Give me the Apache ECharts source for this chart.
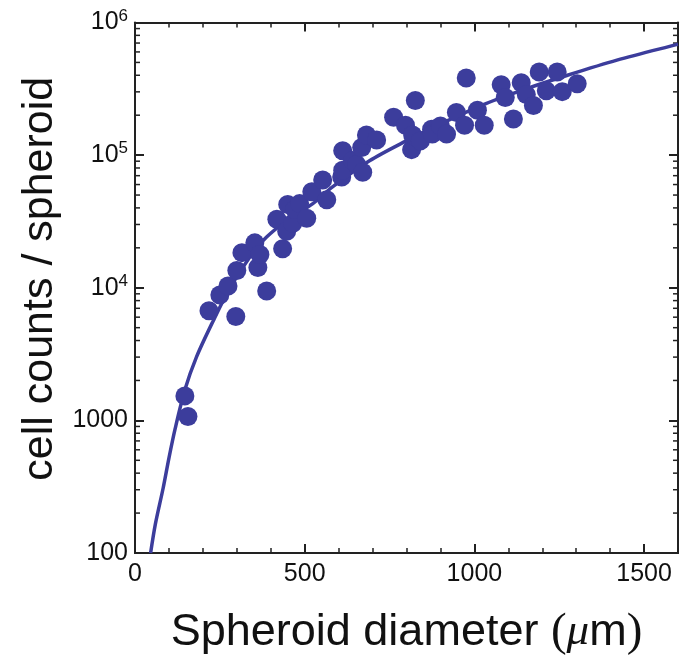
<!DOCTYPE html>
<html>
<head>
<meta charset="utf-8">
<script src="https://cdn.jsdelivr.net/npm/echarts@6/dist/echarts.min.js"></script>
<style>
html,body{margin:0;padding:0;background:#fff;}
#chart{width:685px;height:661px;}
</style>
</head>
<body>
<div id="chart"></div>
<script>
// Measured spheroids: diameter (µm) and cell counts per spheroid
const diameters = [147,156,218,250,274,297,300,315,353,362,368,388,418,435,447,450,465,471,485,506,521,553,565,609,612,612,641,653,668,671,682,712,762,797,815,818,826,841,874,876,900,918,947,971,976,1009,1029,1079,1091,1115,1138,1153,1174,1191,1212,1244,1259,1303];
const counts = [1530,1070,6700,8830,10300,6070,13500,18400,21800,14200,17800,9450,32800,19700,26700,42400,30600,38900,43100,33400,52900,64900,46100,68300,108000,76900,91200,85200,114000,74300,142000,130000,193000,168000,110000,142000,258000,128000,157000,144000,166000,144000,210000,168000,382000,218000,168000,339000,272000,187000,351000,286000,237000,423000,306000,423000,301000,345000];
// Fitted curve
const fitD = [46,60,83,100,118,147,181,230,279,338,387,450,524,582,691,799,900,1034,1150,1270,1420,1595,1600];
const fitN = [100,165,309,520,859,1700,3000,5600,9900,17000,24000,32500,43100,57600,90700,128000,172000,245000,315000,397000,520000,681000,685000];
// Axis ticks
const xMajorTicks = [0,500,1000,1500];
const yTickLabels = ['100','1000','10{s|4}','10{s|5}','10{s|6}'];

const COLOR = '#3c3d9c';
const FONT = '"Liberation Sans",Arial,Helvetica,sans-serif';

const scatterData = diameters.map((d,i)=>[d,counts[i]]);
const fitData = fitD.map((d,i)=>[d,fitN[i]]);

const chart = echarts.init(document.getElementById('chart'), null, {renderer:'canvas'});

const lineStyle = {color:'#222', width:2};
const baseX = {
  type:'value', min:0, max:1600, gridIndex:0,
  splitLine:{show:false},
  axisLine:{show:true, onZero:false, lineStyle},
};
const baseY = {
  type:'log', logBase:10, min:100, max:1000000, gridIndex:0,
  splitLine:{show:false},
  axisLine:{show:true, onZero:false, lineStyle},
  axisTick:{show:true, inside:true, length:9, lineStyle:{color:'#222', width:2}},
};

chart.setOption({
  animation:false,
  backgroundColor:'#fff',
  grid:{left:135, right:7, top:22.5, bottom:98, containLabel:false},
  xAxis:[
    Object.assign({}, baseX, {
      position:'bottom', interval:500,
      axisTick:{show:true, inside:true, length:9, lineStyle:{color:'#222', width:2}},
      axisLabel:{show:true, fontFamily:FONT, fontSize:25, color:'#111', margin:9,
        showMaxLabel:false,
        formatter:v=> xMajorTicks.indexOf(v)>=0 ? String(v) : ''},
      name:'Spheroid diameter {p|(}{mu|μ}{m|m}{p|)}',
      nameLocation:'middle', nameGap:56,
      nameTextStyle:{fontFamily:FONT, fontSize:45, color:'#111',
        rich:{
          p:{fontFamily:'"Liberation Serif",serif', fontSize:47, color:'#111'},
          mu:{fontFamily:'"Liberation Serif",serif', fontStyle:'italic', fontSize:45, color:'#111'},
          m:{fontFamily:FONT, fontSize:45, color:'#111'}
        }}
    }),
    Object.assign({}, baseX, {
      position:'bottom', interval:100,
      axisTick:{show:true, inside:true, length:5, lineStyle:{color:'#222', width:1.5}},
      axisLabel:{show:false}
    }),
    Object.assign({}, baseX, {
      position:'top', interval:500,
      axisTick:{show:true, inside:true, length:9, lineStyle:{color:'#222', width:2}},
      axisLabel:{show:false}
    }),
    Object.assign({}, baseX, {
      position:'top', interval:100,
      axisTick:{show:true, inside:true, length:5, lineStyle:{color:'#222', width:1.5}},
      axisLabel:{show:false}
    })
  ],
  yAxis:[
    Object.assign({}, baseY, {
      position:'left',
      axisLabel:{show:true, fontFamily:FONT, fontSize:25, color:'#111', margin:7,
        formatter:v=>{
          const k = Math.round(Math.log10(v)) - 2;
          return yTickLabels[k] || '';
        },
        rich:{s:{fontFamily:FONT, fontSize:17, color:'#111', padding:[0,0,13,0]}}
      },
      name:'cell counts / spheroid',
      nameLocation:'middle', nameGap:72, nameRotate:90,
      nameTextStyle:{fontFamily:FONT, fontSize:43, color:'#111', padding:[0,0,0,18]}
    }),
    Object.assign({}, baseY, {
      position:'right',
      axisLabel:{show:false}
    })
  ],
  series:[
    {
      type:'line', xAxisIndex:0, yAxisIndex:0,
      data:fitData, smooth:0.3, showSymbol:false, symbol:'none',
      lineStyle:{color:COLOR, width:3.5}, z:2
    },
    {
      type:'scatter', xAxisIndex:0, yAxisIndex:0,
      data:scatterData, symbol:'circle', symbolSize:19,
      itemStyle:{color:COLOR, opacity:1}, z:3
    }
  ]
});

// Minor log ticks (2..9 per decade) on left and right frames, placed through the axis scale
function drawMinor(){
  const els = [];
  const xl = chart.convertToPixel({xAxisIndex:0}, 0);
  const xr = chart.convertToPixel({xAxisIndex:0}, 1600);
  for(let e=2; e<6; e++){
    for(let m=2; m<10; m++){
      const v = m*Math.pow(10,e);
      const y = chart.convertToPixel({yAxisIndex:0}, v);
      els.push({type:'line', shape:{x1:xl, y1:y, x2:xl+5, y2:y}, style:{stroke:'#222', lineWidth:1.5}, silent:true});
      els.push({type:'line', shape:{x1:xr, y1:y, x2:xr-5, y2:y}, style:{stroke:'#222', lineWidth:1.5}, silent:true});
    }
  }
  chart.setOption({graphic:els});
}
drawMinor();
</script>
</body>
</html>
